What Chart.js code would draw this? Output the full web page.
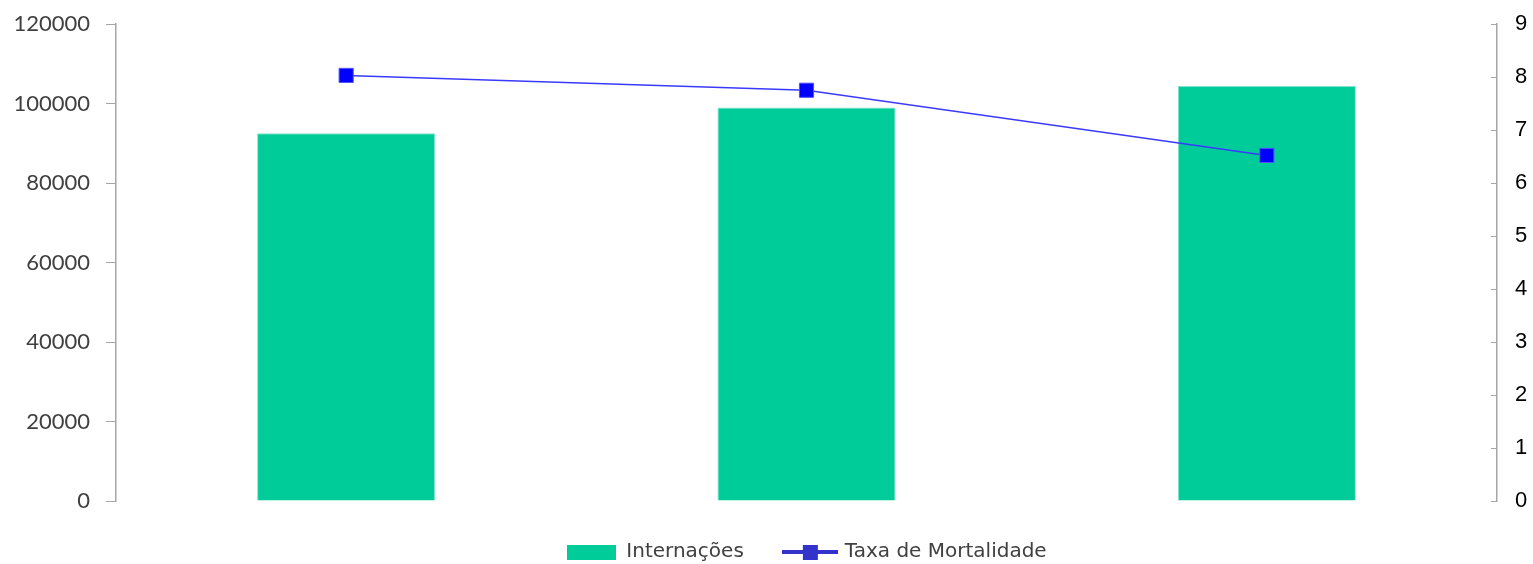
<!DOCTYPE html>
<html>
<head>
<meta charset="utf-8">
<script src="https://cdn.jsdelivr.net/npm/chart.js@4.4.1/dist/chart.umd.min.js"></script>
<style>
  html, body { margin: 0; padding: 0; background: #fff; }
  #wrap { width: 1533px; height: 564px; }
</style>
</head>
<body>
<div id="wrap"><canvas id="grafico"></canvas></div>
<script>
// dados
var periodos = ['1', '2', '3'];
var internacoes = [92500, 99000, 104400];
var taxaMortalidade = [8.03, 7.75, 6.52];

// icones da legenda
function iconeBarra() {
  var c = document.createElement('canvas');
  c.width = 49; c.height = 15;
  var g = c.getContext('2d');
  g.fillStyle = '#00CC99';
  g.fillRect(0, 0, 49, 15);
  return c;
}
function iconeLinha() {
  var c = document.createElement('canvas');
  c.width = 56; c.height = 16;
  var g = c.getContext('2d');
  g.fillStyle = '#3333CC';
  g.fillRect(0, 6, 56, 4);
  g.fillRect(21, 1, 15, 15);
  return c;
}

// marquinhas do eixo direito (para dentro)
var marcasDireita = {
  id: 'marcasDireita',
  afterDraw: function(chart) {
    var s = chart.scales.y1;
    var ctx = chart.ctx;
    ctx.save();
    ctx.strokeStyle = '#a6a6a6';
    ctx.lineWidth = 1;
    s.ticks.forEach(function(t) {
      var y = Math.round(s.getPixelForValue(t.value)) + 0.5;
      ctx.beginPath();
      ctx.moveTo(s.left - 6, y);
      ctx.lineTo(s.left, y);
      ctx.stroke();
    });
    ctx.restore();
  }
};

var grafico = new Chart(document.getElementById('grafico'), {
  type: 'bar',
  data: {
    labels: periodos,
    datasets: [
      {
        type: 'bar',
        label: 'Internações',
        data: internacoes,
        backgroundColor: '#00CC99',
        borderColor: '#7fe5cc',
        borderWidth: 1,
        barPercentage: 0.387,
        categoryPercentage: 1,
        yAxisID: 'y',
        order: 2
      },
      {
        type: 'line',
        label: 'Taxa de Mortalidade',
        data: taxaMortalidade,
        borderColor: '#3a3aff',
        borderWidth: 1.5,
        pointStyle: 'rect',
        pointRadius: 10,
        pointBackgroundColor: '#0000ff',
        pointBorderColor: '#5050ff',
        pointBorderWidth: 1,
        fill: false,
        tension: 0,
        yAxisID: 'y1',
        order: 1
      }
    ]
  },
  options: {
    responsive: true,
    maintainAspectRatio: false,
    animation: false,
    layout: { padding: { top: 0, bottom: -8, left: 0, right: 0 } },
    plugins: {
      tooltip: { enabled: false },
      legend: {
        position: 'bottom',
        fullSize: false,
        labels: {
          usePointStyle: true,
          pointStyleWidth: 50,
          padding: 41,
          font: { family: 'DejaVu Sans', size: 20 },
          color: '#404040',
          generateLabels: function(chart) {
            return [
              { text: 'Internações', pointStyle: iconeBarra(), fontColor: '#404040', datasetIndex: 0, lineWidth: 0 },
              { text: 'Taxa de Mortalidade', pointStyle: iconeLinha(), fontColor: '#404040', datasetIndex: 1, lineWidth: 0 }
            ];
          }
        }
      }
    },
    scales: {
      x: {
        display: false,
        offset: true,
        grid: { display: false }
      },
      y: {
        position: 'left',
        min: 0,
        max: 120000,
        ticks: {
          stepSize: 20000,
          padding: 16,
          color: '#404040',
          font: { family: 'Lato', size: 22 },
          callback: function(v) { return String(v); }
        },
        grid: { drawOnChartArea: false, tickLength: 10, color: '#a6a6a6' },
        border: { color: '#a6a6a6', width: 1.5 },
        afterFit: function(s) { s.width = 116; s.paddingTop = 24; }
      },
      y1: {
        position: 'right',
        min: 0,
        max: 9,
        ticks: {
          stepSize: 1,
          padding: 18,
          color: '#000000',
          font: { family: 'Liberation Sans', size: 22 }
        },
        grid: { drawOnChartArea: false, drawTicks: false },
        border: { color: '#a6a6a6', width: 1.5 },
        afterFit: function(s) { s.width = 36; s.paddingTop = 24; }
      }
    }
  },
  plugins: [marcasDireita]
});
</script>
</body>
</html>
